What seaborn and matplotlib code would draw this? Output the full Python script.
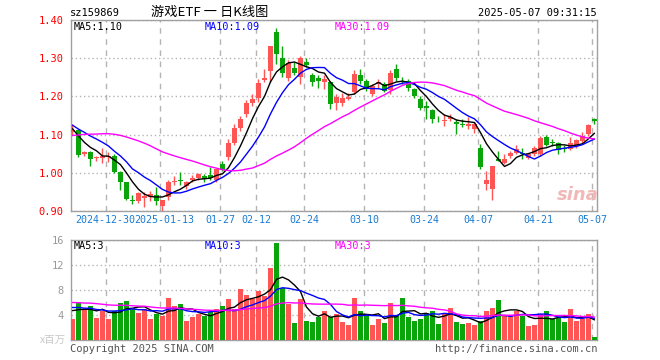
import numpy as np
import pandas as pd
import matplotlib
matplotlib.use("Agg")
from matplotlib import pyplot as plt
from matplotlib import transforms
import seaborn as sns

# 游戏ETF (sz159869) daily candles, 2024-12-20 .. 2025-05-07
open_ = [1.106, 1.112, 1.048, 1.054, 1.038, 1.040, 1.042, 1.044, 1.003, 0.975,
         0.930, 0.925, 0.935, 0.936, 0.942, 0.912, 0.937, 0.976, 0.982, 0.965,
         0.982, 0.987, 0.992, 0.993, 0.980, 1.024, 1.041, 1.079, 1.118, 1.153,
         1.184, 1.195, 1.243, 1.267, 1.369, 1.300, 1.247, 1.274, 1.250, 1.290,
         1.255, 1.247, 1.238, 1.237, 1.184, 1.184, 1.193, 1.211, 1.256, 1.241,
         1.205, 1.232, 1.232, 1.217, 1.273, 1.241, 1.241, 1.219, 1.193, 1.175,
         1.165, 1.139, 1.136, 1.140, 1.133, 1.127, 1.123, 1.114, 1.064, 0.971,
         0.958, 1.035, 1.026, 1.044, 1.053, 1.052, 1.040, 1.048, 1.050, 1.095,
         1.081, 1.079, 1.064, 1.061, 1.070, 1.083, 1.101, 1.140]
high = [1.127, 1.115, 1.056, 1.056, 1.045, 1.064, 1.054, 1.048, 1.005, 0.976,
        0.943, 0.949, 0.951, 0.952, 0.962, 0.930, 0.982, 0.991, 1.001, 0.978,
        0.993, 1.000, 0.997, 1.015, 1.011, 1.031, 1.088, 1.129, 1.150, 1.190,
        1.206, 1.245, 1.272, 1.331, 1.380, 1.331, 1.295, 1.290, 1.307, 1.300,
        1.262, 1.255, 1.257, 1.240, 1.205, 1.210, 1.210, 1.270, 1.272, 1.246,
        1.232, 1.245, 1.237, 1.270, 1.284, 1.252, 1.245, 1.222, 1.200, 1.188,
        1.167, 1.150, 1.153, 1.155, 1.140, 1.140, 1.146, 1.133, 1.075, 1.006,
        1.017, 1.057, 1.048, 1.058, 1.072, 1.064, 1.053, 1.070, 1.096, 1.098,
        1.089, 1.081, 1.074, 1.095, 1.089, 1.107, 1.127, 1.143]
low = [1.098, 1.041, 1.043, 1.017, 1.030, 1.026, 1.027, 1.000, 0.956, 0.928,
       0.918, 0.920, 0.910, 0.925, 0.917, 0.901, 0.930, 0.969, 0.967, 0.958,
       0.975, 0.982, 0.975, 0.980, 0.977, 1.005, 1.034, 1.073, 1.110, 1.145,
       1.174, 1.185, 1.237, 1.237, 1.284, 1.250, 1.240, 1.255, 1.233, 1.276,
       1.228, 1.222, 1.219, 1.168, 1.165, 1.175, 1.190, 1.205, 1.232, 1.215,
       1.200, 1.222, 1.212, 1.205, 1.240, 1.232, 1.215, 1.195, 1.165, 1.140,
       1.130, 1.134, 1.123, 1.135, 1.101, 1.120, 1.115, 1.105, 1.011, 0.956,
       0.929, 1.030, 1.024, 1.039, 1.050, 1.035, 1.035, 1.044, 1.045, 1.070,
       1.070, 1.048, 1.054, 1.059, 1.066, 1.079, 1.096, 1.127]
close = [1.112, 1.046, 1.054, 1.035, 1.041, 1.044, 1.044, 1.002, 0.976, 0.932,
         0.927, 0.947, 0.938, 0.945, 0.926, 0.928, 0.975, 0.978, 0.979, 0.975,
         0.986, 0.997, 0.985, 0.987, 1.011, 1.007, 1.077, 1.118, 1.140, 1.182,
         1.193, 1.235, 1.249, 1.331, 1.312, 1.260, 1.287, 1.260, 1.300, 1.281,
         1.237, 1.241, 1.245, 1.180, 1.199, 1.195, 1.199, 1.258, 1.241, 1.219,
         1.227, 1.238, 1.215, 1.262, 1.247, 1.238, 1.221, 1.201, 1.169, 1.169,
         1.140, 1.137, 1.139, 1.146, 1.129, 1.125, 1.129, 1.129, 1.015, 0.982,
         1.017, 1.032, 1.037, 1.053, 1.063, 1.050, 1.048, 1.064, 1.092, 1.074,
         1.079, 1.059, 1.062, 1.077, 1.086, 1.096, 1.124, 1.135]
# volume, millions of shares
volume = [3.4, 5.9, 5.0, 5.4, 3.6, 4.7, 3.4, 4.7, 6.0, 6.2,
          5.1, 4.4, 4.9, 3.4, 4.1, 3.9, 6.8, 5.4, 5.7, 3.1,
          3.75, 4.1, 3.9, 4.5, 4.9, 5.4, 6.6, 4.9, 8.1, 7.2,
          6.5, 7.9, 7.0, 11.6, 15.5, 8.3, 5.7, 2.8, 6.5, 3.1,
          2.9, 3.75, 4.7, 3.7, 4.1, 2.9, 2.4, 6.7, 4.6, 3.9,
          2.4, 3.4, 2.8, 6.0, 3.9, 6.7, 3.75, 3.1, 3.4, 4.4,
          4.6, 2.6, 4.2, 5.2, 2.9, 2.6, 2.8, 2.4, 3.1, 4.7,
          5.2, 6.4, 3.9, 3.9, 4.7, 3.9, 2.3, 2.4, 4.1, 4.6,
          3.4, 3.6, 2.9, 4.9, 3.1, 3.4, 4.2, 0.5]

# earlier sessions (not drawn), estimated from where the MA lines start
hist_close = [1.00, 1.01, 1.02, 1.03, 1.02, 1.04, 1.05, 1.06, 1.06, 1.08,
              1.10, 1.12, 1.15, 1.17, 1.16, 1.14, 1.13, 1.12, 1.11, 1.11,
              1.15, 1.14, 1.13, 1.12, 1.13, 1.14, 1.14, 1.10, 1.085]
hist_volume = [6.5, 7.0, 5.8, 6.2, 7.5, 6.8, 5.9, 6.3, 6.6, 7.1,
               6.0, 5.5, 6.9, 7.2, 6.1, 5.8, 6.4, 6.7, 6.0, 5.7,
               5.8, 6.2, 5.5, 5.6, 5.4, 5.2, 4.6, 5.5, 4.8]

tick_idx = [6, 15, 25, 31, 39, 49, 59, 68, 78, 87]
tick_labels = ["2024-12-30", "2025-01-13", "01-27", "02-12", "02-24",
               "03-10", "03-24", "04-07", "04-21", "05-07"]

RED = "#ff5555"
GREEN = "#0aa50a"
GRID = "#b4b4b4"
FRAME = "#a0a0a0"

sns.set_style("white")
plt.rcParams["font.family"] = ["DejaVu Sans Mono", "Noto Sans CJK SC"]

n = len(close)
x = np.arange(n)
o = np.array(open_)
c = np.array(close)
up = c >= o
cols = np.where(up, RED, GREEN)

all_close = pd.Series(hist_close + close)
all_vol = pd.Series(hist_volume + volume)
ma = {k: all_close.rolling(k).mean().to_numpy()[-n:] for k in (5, 10, 30)}
vma = {k: all_vol.rolling(k).mean().to_numpy()[-n:] for k in (5, 10, 30)}
ma_colors = {5: "black", 10: "#0000ff", 30: "#ff00ff"}

fig = plt.figure(figsize=(6.6, 3.6), dpi=100)
W, H = 660.0, 360.0
ax1 = fig.add_axes([70.7 / W, 1 - 211 / H, 526 / W, 191 / H])
ax2 = fig.add_axes([70.7 / W, 1 - 340 / H, 526 / W, 100 / H])

# candles
ax1.vlines(x, low, high, colors=cols, linewidth=1, zorder=3)
body_bottom = np.minimum(o, c)
body_h = np.maximum(np.abs(c - o), 0.0025)
ax1.bar(x, body_h, bottom=body_bottom, width=0.82, color=cols, linewidth=0, zorder=3)
for k in (5, 10, 30):
    sns.lineplot(x=x, y=ma[k], color=ma_colors[k], linewidth=1, ax=ax1, zorder=4)

# volume
vdf = pd.DataFrame({"idx": x, "vol": volume, "dir": np.where(up, "up", "down")})
sns.barplot(data=vdf, x="idx", y="vol", hue="dir", palette={"up": RED, "down": GREEN},
            native_scale=True, dodge=False, width=0.82, saturation=1, linewidth=0,
            errorbar=None, legend=False, ax=ax2, zorder=3)
for k in (5, 10, 30):
    sns.lineplot(x=x, y=vma[k], color=ma_colors[k], linewidth=1, ax=ax2, zorder=4)

tick_pos = [t - 0.4 for t in tick_idx]
for ax in (ax1, ax2):
    ax.set_xlim(-0.3, 87.37)
    ax.set_xticks(tick_pos)
    ax.grid(axis="x", color=GRID, linestyle=(0, (4, 4)), linewidth=1)
    ax.grid(axis="y", color=GRID, linestyle=(0, (1, 2)), linewidth=1)
    ax.set_xlabel("")
    ax.set_ylabel("")
    for s in ax.spines.values():
        s.set_color(FRAME)
        s.set_linewidth(1)
    ax.set_axisbelow(True)

ax1.set_ylim(0.90, 1.40)
ax1.set_yticks([0.9, 1.0, 1.1, 1.2, 1.3, 1.4])
ax1.set_yticklabels([f"{v:.2f}" for v in [0.9, 1.0, 1.1, 1.2, 1.3, 1.4]])
ax1.set_xticklabels(tick_labels)
ax1.tick_params(axis="y", colors="red", length=0, labelsize=7.5, pad=5)
ax1.tick_params(axis="x", colors="#1a7bd0", length=0, labelsize=7.2, pad=3)
# the two long dates sit side by side, nudge them apart like the original
lbls = ax1.get_xticklabels()
lbls[0].set_transform(lbls[0].get_transform() + transforms.ScaledTranslation(-0.01, 0, fig.dpi_scale_trans))
lbls[1].set_transform(lbls[1].get_transform() + transforms.ScaledTranslation(0.045, 0, fig.dpi_scale_trans))

ax2.set_ylim(0, 16)
ax2.set_yticks([4, 8, 12, 16])
ax2.set_yticklabels(["4", "8", "12", "16"])
ax2.set_xticklabels([])
ax2.tick_params(axis="y", colors="#999999", length=0, labelsize=7.5, pad=5)
ax2.tick_params(axis="x", length=0)

# legends inside panels
fs = 7.3
fig.text(74 / W, 1 - 27 / H, f"MA5:{ma[5][-1]:.2f}", color="black", fontsize=fs, va="center")
fig.text(205 / W, 1 - 27 / H, f"MA10:{ma[10][-1]:.2f}", color="#0000ff", fontsize=fs, va="center")
fig.text(335 / W, 1 - 27 / H, f"MA30:{ma[30][-1]:.2f}", color="#ff00ff", fontsize=fs, va="center")
fig.text(74 / W, 1 - 246 / H, f"MA5:{int(vma[5][-1])}", color="black", fontsize=fs, va="center")
fig.text(205 / W, 1 - 246 / H, f"MA10:{int(vma[10][-1])}", color="#0000ff", fontsize=fs, va="center")
fig.text(335 / W, 1 - 246 / H, f"MA30:{int(vma[30][-1])}", color="#ff00ff", fontsize=fs, va="center")

# header and footer
fig.text(70 / W, 1 - 13 / H, "sz159869", color="black", fontsize=7.5, va="center")
fig.text(210 / W, 1 - 12 / H, "游戏ETF 一 日K线图", color="black", fontsize=9.5, va="center",
         ha="center", family=["Noto Sans CJK SC", "DejaVu Sans"])
fig.text(597 / W, 1 - 13 / H, "2025-05-07 09:31:15", color="black", fontsize=7.5,
         va="center", ha="right")
fig.text(70 / W, 1 - 349 / H, "Copyright 2025 SINA.COM", color="#555555", fontsize=7.5, va="center")
fig.text(597 / W, 1 - 349 / H, "http://finance.sina.com.cn", color="#555555", fontsize=7.5,
         va="center", ha="right")
fig.text(66 / W, 1 - 340 / H, "x百万", color="#c8c8c8", fontsize=7.5, va="center", ha="right",
         family=["Noto Sans CJK SC", "DejaVu Sans"])
fig.text(578 / W, 1 - 195 / H, "sina", color="#f2b8b8", fontsize=13, va="center", ha="center",
         style="italic", weight="bold", family="DejaVu Sans")

fig.savefig("out.png", dpi=100)
